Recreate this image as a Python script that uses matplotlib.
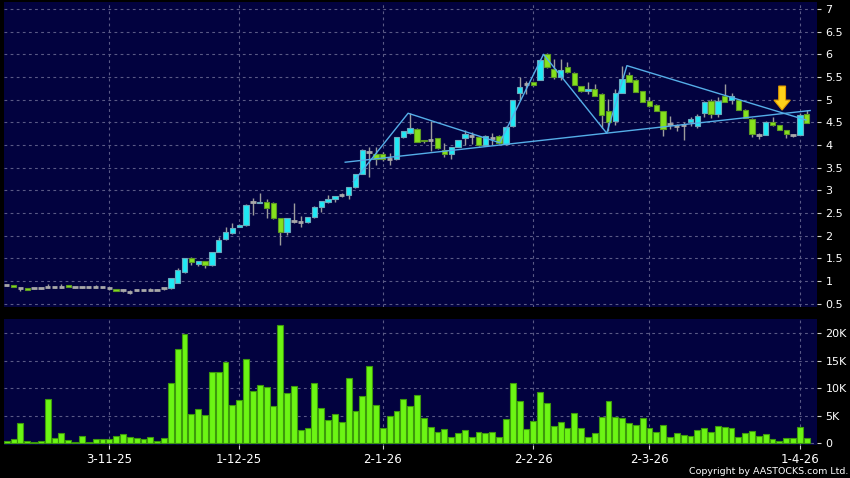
import matplotlib
matplotlib.use("Agg")
import matplotlib.pyplot as plt
from matplotlib.patches import FancyArrow

# ---------------- data ----------------
opens = [0.91, 0.91, 0.84, 0.84, 0.84, 0.84, 0.86, 0.86, 0.86, 0.91,
         0.86, 0.86, 0.86, 0.86, 0.86, 0.84, 0.82, 0.79, 0.76, 0.79,
         0.79, 0.81, 0.81, 0.84, 0.84, 0.96, 1.19, 1.50, 1.38, 1.43,
         1.35, 1.65, 1.93, 2.05, 2.20, 2.23, 2.74, 2.72, 2.74, 2.71,
         2.38, 2.09, 2.33, 2.31, 2.29, 2.41, 2.64, 2.75, 2.80, 2.90,
         2.89, 3.07, 3.36, 3.85, 3.80, 3.80, 3.68, 3.68, 4.17, 4.26,
         4.35, 4.10, 4.10, 4.15, 3.89, 3.80, 3.96, 4.15, 4.20, 4.18,
         4.00, 4.15, 4.20, 4.02, 4.41, 5.15, 5.35, 5.39, 5.44, 6.00,
         5.68, 5.49, 5.71, 5.59, 5.30, 5.18, 5.24, 5.13, 4.75, 4.53,
         5.15, 5.55, 5.44, 5.19, 4.96, 4.89, 4.75, 4.47, 4.42, 4.45,
         4.51, 4.41, 4.71, 4.97, 4.68, 5.07, 4.99, 4.99, 4.78, 4.58,
         4.22, 4.22, 4.50, 4.43, 4.33, 4.22, 4.22, 4.69]
highs = [0.91, 0.91, 0.85, 0.84, 0.84, 0.85, 0.94, 0.86, 0.93, 0.92,
         0.86, 0.86, 0.86, 0.92, 0.86, 0.85, 0.82, 0.82, 0.79, 0.79,
         0.80, 0.84, 0.82, 0.85, 1.06, 1.28, 1.50, 1.53, 1.44, 1.44,
         1.64, 1.98, 2.20, 2.28, 2.26, 2.70, 2.83, 2.95, 2.80, 2.74,
         2.39, 2.39, 2.71, 2.43, 2.42, 2.65, 2.77, 2.89, 2.88, 2.95,
         3.08, 3.37, 3.92, 3.96, 3.96, 3.85, 3.82, 4.18, 4.31, 4.70,
         4.38, 4.12, 4.54, 4.16, 4.05, 3.96, 4.12, 4.33, 4.28, 4.19,
         4.23, 4.26, 4.21, 4.42, 5.00, 5.51, 5.42, 5.40, 5.90, 6.02,
         5.90, 5.90, 5.84, 5.60, 5.31, 5.40, 5.34, 5.14, 5.02, 5.24,
         5.74, 5.62, 5.45, 5.20, 5.06, 4.90, 4.76, 4.64, 4.47, 4.50,
         4.62, 4.68, 4.97, 5.02, 5.06, 5.35, 5.15, 5.00, 4.79, 4.59,
         4.26, 4.52, 4.62, 4.44, 4.34, 4.25, 4.70, 4.78]
lows = [0.90, 0.86, 0.77, 0.80, 0.83, 0.83, 0.84, 0.85, 0.84, 0.86,
        0.85, 0.85, 0.85, 0.84, 0.85, 0.79, 0.78, 0.76, 0.71, 0.78,
        0.78, 0.78, 0.80, 0.81, 0.83, 0.95, 1.18, 1.36, 1.33, 1.29,
        1.34, 1.63, 1.91, 2.03, 2.18, 2.22, 2.45, 2.71, 2.39, 2.37,
        1.79, 2.02, 2.27, 2.19, 2.28, 2.40, 2.53, 2.73, 2.75, 2.85,
        2.81, 3.06, 3.35, 3.30, 3.56, 3.64, 3.56, 3.67, 4.16, 4.25,
        4.06, 4.05, 3.86, 3.92, 3.74, 3.70, 3.95, 4.00, 4.02, 3.98,
        3.99, 4.00, 4.02, 4.01, 4.40, 4.99, 5.13, 5.30, 5.43, 5.70,
        5.46, 5.43, 5.59, 5.32, 5.16, 5.12, 5.07, 4.37, 4.30, 4.45,
        5.14, 5.39, 5.16, 4.94, 4.84, 4.74, 4.20, 4.36, 4.30, 4.10,
        4.42, 4.38, 4.62, 4.60, 4.62, 4.94, 4.90, 4.77, 4.59, 4.18,
        4.14, 4.21, 4.42, 4.32, 4.15, 4.17, 4.21, 4.48]
closes = [0.91, 0.86, 0.84, 0.80, 0.84, 0.84, 0.86, 0.86, 0.86, 0.86,
          0.86, 0.86, 0.86, 0.86, 0.86, 0.84, 0.78, 0.79, 0.76, 0.79,
          0.79, 0.81, 0.81, 0.84, 1.06, 1.24, 1.50, 1.41, 1.43, 1.35,
          1.63, 1.91, 2.08, 2.17, 2.23, 2.68, 2.74, 2.74, 2.62, 2.38,
          2.09, 2.38, 2.33, 2.31, 2.41, 2.64, 2.76, 2.80, 2.87, 2.90,
          3.07, 3.36, 3.89, 3.85, 3.68, 3.68, 3.68, 4.17, 4.30, 4.37,
          4.07, 4.08, 4.10, 3.93, 3.80, 3.95, 4.11, 4.24, 4.20, 4.00,
          4.20, 4.15, 4.04, 4.39, 5.00, 5.29, 5.35, 5.32, 5.88, 5.71,
          5.49, 5.66, 5.60, 5.33, 5.18, 5.24, 5.08, 4.67, 4.51, 5.15,
          5.46, 5.40, 5.17, 4.95, 4.86, 4.75, 4.36, 4.47, 4.42, 4.45,
          4.57, 4.65, 4.95, 4.68, 4.97, 4.95, 5.09, 4.78, 4.60, 4.24,
          4.22, 4.50, 4.43, 4.33, 4.24, 4.22, 4.67, 4.49]
volumes_k = [0.4, 0.8, 3.7, 0.5, 0.2, 0.4, 8.0, 0.9, 1.8, 0.6,
             0.2, 1.3, 0.2, 0.7, 0.8, 0.7, 1.3, 1.7, 1.2, 0.9,
             0.7, 1.2, 0.5, 1.0, 11.0, 17.2, 19.8, 5.3, 6.2, 5.1,
             13.0, 12.9, 14.8, 7.0, 7.9, 15.4, 9.5, 10.6, 10.2, 6.8,
             21.5, 9.2, 10.4, 2.4, 2.7, 10.9, 6.5, 4.2, 5.4, 3.8,
             11.9, 5.9, 8.6, 14.1, 7.0, 2.7, 4.9, 5.9, 8.0, 6.7,
             8.7, 4.6, 3.0, 2.1, 2.6, 1.2, 1.9, 2.5, 1.1, 2.1,
             1.9, 2.0, 1.2, 4.4, 11.0, 7.6, 2.6, 4.1, 9.3, 7.3,
             3.2, 3.8, 2.8, 5.5, 2.7, 1.2, 1.9, 4.8, 7.6, 4.8,
             4.6, 3.6, 3.3, 4.6, 2.7, 2.1, 3.3, 1.2, 1.8, 1.5,
             1.3, 2.4, 2.7, 2.0, 3.2, 2.9, 2.7, 1.2, 1.8, 2.2,
             1.3, 1.7, 0.8, 0.5, 1.0, 1.0, 3.0, 1.0]

x_tick_idx = [15, 34, 55, 77, 94, 116]
x_tick_labels = ["3-11-25", "1-12-25", "2-1-26", "2-2-26", "2-3-26", "1-4-26"]
price_ticks = [0.5, 1, 1.5, 2, 2.5, 3, 3.5, 4, 4.5, 5, 5.5, 6, 6.5, 7]
price_tick_labels = ["0.5", "1", "1.5", "2", "2.5", "3", "3.5", "4", "4.5",
                     "5", "5.5", "6", "6.5", "7"]
vol_ticks = [0, 5, 10, 15, 20]
vol_tick_labels = ["0", "5K", "10K", "15K", "20K"]

support_x = [49.5, 117.5]
support_y = [3.62, 4.76]
zigzag_x = [50.7, 58.7, 72.1, 78.5, 87.75, 90.7, 116.9]
zigzag_y = [3.19, 4.70, 4.05, 6.00, 4.26, 5.75, 4.55]
arrow_x = 113.4
arrow_top = 5.30
arrow_tip = 4.77

# ---------------- style ----------------
BG = "#02023f"
GRID = "#5a5a86"
UP = "#1fe9f5"
UP_EDGE = "#6aa9bd"
DOWN = "#86e11d"
DOWN_EDGE = "#5c9a22"
WICK = "#9c9c9c"
VOL = "#6cf514"
VOL_EDGE = "#3d9a0c"
LINE = "#55aee8"

W, H = 850, 478
fig = plt.figure(figsize=(W / 100, H / 100), dpi=100, facecolor="black")

def frac(x0, y0, x1, y1):
    return [x0 / W, 1 - y1 / H, (x1 - x0) / W, (y1 - y0) / H]

ax = fig.add_axes(frac(4, 2, 817, 307), facecolor=BG)
axv = fig.add_axes(frac(4, 319, 817, 444.5), facecolor=BG, sharex=ax)

n = len(closes)
xs = list(range(n))

# wicks
ax.vlines(xs, lows, highs, color=WICK, lw=1.0, zorder=2)
# bodies
bw = 0.78
for i in xs:
    o, c = opens[i], closes[i]
    if abs(c - o) < 1e-9:
        ax.hlines(o, i - bw / 2, i + bw / 2, color="#a8a8a8", lw=2.0, zorder=3)
    elif c > o:
        ax.bar(i, c - o, bottom=o, width=bw, color=UP, edgecolor=UP_EDGE,
               lw=0.8, zorder=3)
    else:
        ax.bar(i, o - c, bottom=c, width=bw, color=DOWN, edgecolor=DOWN_EDGE,
               lw=0.8, zorder=3)

# trend lines
ax.plot(support_x, support_y, color=LINE, lw=1.0, zorder=4)
ax.plot(zigzag_x, zigzag_y, color=LINE, lw=1.0, zorder=4)

# arrow
ax.add_patch(FancyArrow(arrow_x, arrow_top, 0, arrow_tip - arrow_top,
                        width=1.0, head_width=2.4, head_length=0.22,
                        length_includes_head=True, facecolor="#ffd21a",
                        edgecolor="#e39a00", lw=0.8, zorder=5))

# volume
axv.bar(xs, volumes_k, width=0.86, color=VOL, edgecolor=VOL_EDGE, lw=0.8,
        zorder=3)

# axes limits
ax.set_xlim(-0.4, 118.5)
ax.set_ylim(0.426, 7.154)
axv.set_ylim(-0.22, 22.6)

for a in (ax, axv):
    for s in a.spines.values():
        s.set_visible(False)
    a.yaxis.tick_right()
    a.grid(True, color=GRID, lw=0.8, linestyle=(0, (2.5, 3)))
    a.set_axisbelow(True)
    a.tick_params(axis="y", colors="#d0d0d0", labelcolor="white",
                  direction="out", length=3, pad=3, labelsize=8)

ax.set_yticks(price_ticks)
ax.set_yticklabels(price_tick_labels)
axv.set_yticks(vol_ticks)
axv.set_yticklabels(vol_tick_labels)

axv.set_xticks(x_tick_idx)
axv.set_xticklabels(x_tick_labels)
ax.tick_params(axis="x", bottom=False, labelbottom=False)
axv.tick_params(axis="x", colors="#d0d0d0", labelcolor="white",
                direction="out", length=3, pad=3, labelsize=8.5)

fig.text(848 / W, 1 - 471 / H, "Copyright by AASTOCKS.com Ltd.", color="white",
         fontsize=6.8, ha="right", va="center")

fig.savefig("out.png", dpi=100, facecolor="black")
